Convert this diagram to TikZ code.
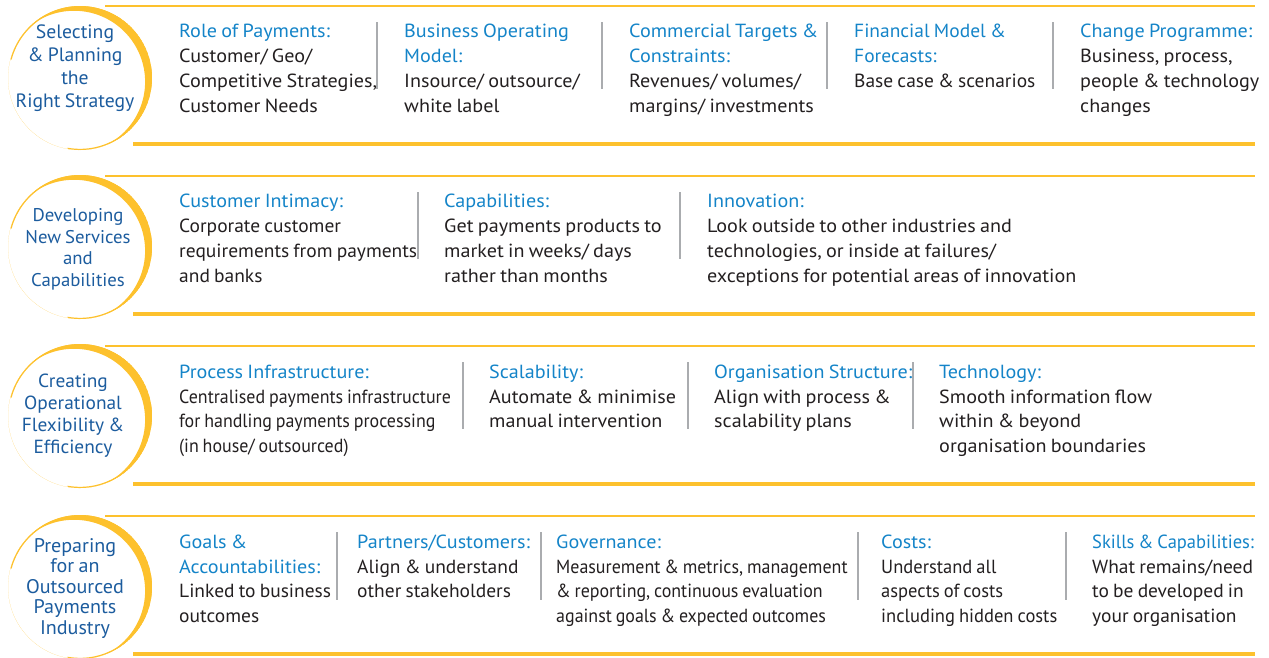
\documentclass[tikz,border=0pt]{standalone}
\usepackage{fontspec}
\setmainfont{PT Sans}
% text faces: regular width and a few tighter settings
\newfontfamily\wideface[FakeStretch=1.06,WordSpace=0.8]{PT Sans}
\newfontfamily\midface[FakeStretch=1.025,WordSpace=0.8]{PT Sans}
\newfontfamily\slimface[FakeStretch=0.975,WordSpace=0.8]{PT Sans}
\newfontfamily\narrowface[FakeStretch=0.945,WordSpace=0.8]{PT Sans}
\newfontfamily\ringface[FakeStretch=1.02,WordSpace=0.8]{PT Sans}
\definecolor{gold}{RGB}{253,193,45}
\definecolor{headblue}{RGB}{20,132,200}
\definecolor{ringblue}{RGB}{28,92,158}
\definecolor{bodytxt}{RGB}{35,31,32}
\definecolor{sepgray}{RGB}{170,172,175}
\newcommand{\firstln}{\rule{0pt}{18pt}}
\newcommand{\hd}[1]{\textcolor{headblue}{#1}}
\newcommand{\hdw}[1]{\textcolor{headblue}{\wideface #1}}
\newcommand{\hds}[1]{\textcolor{headblue}{\slimface #1}}
\tikzset{
  col/.style={anchor=north west, inner sep=0pt, align=left, text=bodytxt,
    font=\wideface\fontsize{19}{24.8}\selectfont},
  colmid/.style={col, font=\midface\fontsize{19}{24.8}\selectfont},
  colslim/.style={col, font=\slimface\fontsize{19}{24.8}\selectfont},
  colnarrow/.style={col, font=\narrowface\fontsize{19}{24.8}\selectfont},
  ringtext/.style={align=center, inner sep=0pt, text=ringblue},
  topline/.style={draw=gold, line width=1.5pt},
  baseline/.style={draw=gold, line width=4pt},
  sepline/.style={draw=sepgray, line width=1.3pt},
}
\usetikzlibrary{calc}
% crescent ring: thin arc plus a thickening on the lower right
\newcommand{\ring}[2]{%
  \begin{scope}[shift={(#1,#2)}]
    \draw[gold, line width=1.2pt] (100:71.4) arc[start angle=100, end angle=-165, radius=71.4];
    \begin{scope}
      \clip (0,0) circle[radius=72];
      \fill[gold, even odd rule] (0,0) circle[radius=72]
        ($(147.5:7)$) circle[radius=71];
    \end{scope}
  \end{scope}}
\begin{document}
\begin{tikzpicture}[x=1pt, y=-1pt]
\useasboundingbox (0,0) rectangle (1269,657);

% ---------- row 1 ----------
\ring{80}{78}
\coordinate (t1a) at (105,6);  \coordinate (t1b) at (1255,6);
\coordinate (b1a) at (133,144); \coordinate (b1b) at (1255,144);
\draw[topline] (t1a) -- (t1b);
\draw[baseline] (b1a) -- (b1b);
\node[ringtext, font=\ringface\fontsize{19.3}{23}\selectfont] (r1) at (75,68.5)
  {Selecting\\\& Planning\\the\\Right Strategy};
\node[col] (c11) at (179,19.5) {\firstln\hd{Role of Payments:}\\Customer/ Geo/\\Competitive Strategies,\\Customer Needs};
\node[col] (c12) at (404,19.5) {\firstln\hd{Business Operating}\\\hd{Model:}\\Insource/ outsource/\\white label};
\node[col] (c13) at (629,19.5) {\firstln\hd{Commercial Targets \&}\\\hd{Constraints:}\\Revenues/ volumes/\\margins/ investments};
\node[colmid] (c14) at (854,19.5) {\firstln\hd{Financial Model \&}\\\hd{Forecasts:}\\Base case \& scenarios};
\node[col] (c15) at (1080,19.5) {\firstln\hd{Change Programme:}\\Business, process,\\people \& technology\\changes};
\foreach \x [count=\i] in {377,602,827,1053}{
  \coordinate (s1\i a) at (\x,22); \coordinate (s1\i b) at (\x,89);
  \draw[sepline] (s1\i a) -- (s1\i b);}

% ---------- row 2 ----------
\ring{80}{247}
\coordinate (t2a) at (105,176);  \coordinate (t2b) at (1255,176);
\coordinate (b2a) at (133,314); \coordinate (b2b) at (1255,314);
\draw[topline] (t2a) -- (t2b);
\draw[baseline] (b2a) -- (b2b);
\node[ringtext, font=\ringface\fontsize{18.4}{21.5}\selectfont] (r2) at (78,249.5)
  {Developing\\New Services\\and\\Capabilities};
\node[colmid] (c21) at (179,189.5) {\firstln\hdw{Customer Intimacy:}\\Corporate customer\\requirements from payments\\and banks};
\node[col] (c22) at (444,189.5) {\firstln\hd{Capabilities:}\\Get payments products to\\market in weeks/ days\\rather than months};
\node[col] (c23) at (707,189.5) {\firstln\hd{Innovation:}\\Look outside to other industries and\\technologies, or inside at failures/\\exceptions for potential areas of innovation};
\foreach \x [count=\i] in {418,680}{
  \coordinate (s2\i a) at (\x,192); \coordinate (s2\i b) at (\x,259);
  \draw[sepline] (s2\i a) -- (s2\i b);}

% ---------- row 3 ----------
\ring{80}{416}
\coordinate (t3a) at (105,346);  \coordinate (t3b) at (1255,346);
\coordinate (b3a) at (133,484); \coordinate (b3b) at (1255,484);
\draw[topline] (t3a) -- (t3b);
\draw[baseline] (b3a) -- (b3b);
\node[ringtext, font=\ringface\fontsize{19}{22}\selectfont] (r3) at (73,416)
  {Creating\\Operational\\Flexibility \&\\Efficiency};
\node[colnarrow] (c31) at (179,360) {\firstln\hdw{Process Infrastructure:}\\Centralised payments infrastructure\\for handling payments processing\\(in house/ outsourced)};
\node[col] (c32) at (489,360) {\firstln\hd{Scalability:}\\Automate \& minimise\\manual intervention};
\node[col] (c33) at (714,360) {\firstln\hd{Organisation Structure:}\\Align with process \&\\scalability plans};
\node[col] (c34) at (939,360) {\firstln\hd{Technology:}\\Smooth information flow\\within \& beyond\\organisation boundaries};
\foreach \x [count=\i] in {463,688,913}{
  \coordinate (s3\i a) at (\x,362); \coordinate (s3\i b) at (\x,429);
  \draw[sepline] (s3\i a) -- (s3\i b);}

% ---------- row 4 ----------
\ring{80}{587}
\coordinate (t4a) at (105,516);  \coordinate (t4b) at (1255,516);
\coordinate (b4a) at (133,654); \coordinate (b4b) at (1255,654);
\draw[topline] (t4a) -- (t4b);
\draw[baseline] (b4a) -- (b4b);
\node[ringtext, font=\ringface\fontsize{19.7}{20.5}\selectfont] (r4) at (75,588.5)
  {Preparing\\for an\\Outsourced\\Payments\\Industry};
\node[colmid] (c41) at (179,530) {\firstln\hdw{Goals \&}\\\hdw{Accountabilities:}\\Linked to business\\outcomes};
\node[colmid] (c42) at (357,530) {\firstln\hdw{Partners/Customers:}\\Align \& understand\\other stakeholders};
\node[colnarrow] (c43) at (556,530) {\firstln\hdw{Governance:}\\Measurement \& metrics, management\\\& reporting, continuous evaluation\\against goals \& expected outcomes};
\node[colslim] (c44) at (881,530) {\firstln\hdw{Costs:}\\Understand all\\aspects of costs\\including hidden costs};
\node[colmid] (c45) at (1092,530) {\firstln\hds{Skills \& Capabilities:}\\What remains/need\\to be developed in\\your organisation};
\foreach \x [count=\i] in {337,541,858,1066}{
  \coordinate (s4\i a) at (\x,532); \coordinate (s4\i b) at (\x,600);
  \draw[sepline] (s4\i a) -- (s4\i b);}
\end{tikzpicture}
\end{document}
